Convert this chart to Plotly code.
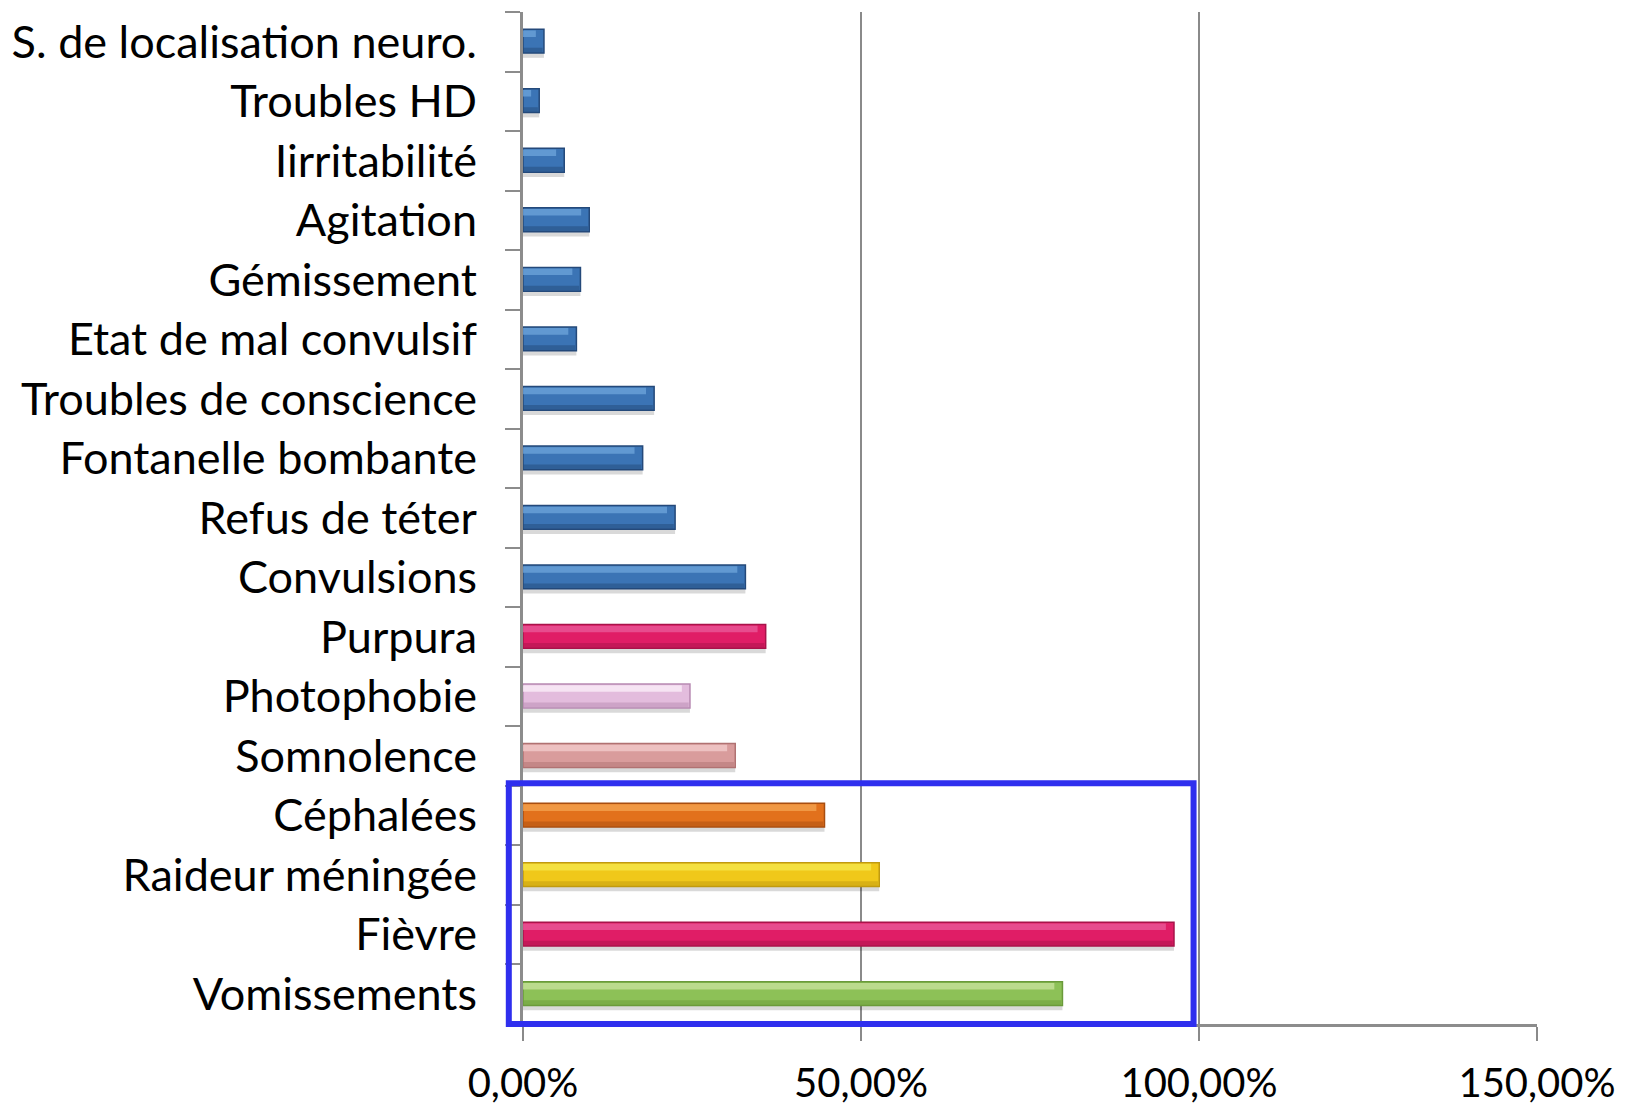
import plotly.graph_objects as go

categories = [
    "S. de localisation neuro.", "Troubles HD", "Iirritabilité", "Agitation",
    "Gémissement", "Etat de mal convulsif", "Troubles de conscience",
    "Fontanelle bombante", "Refus de téter", "Convulsions", "Purpura",
    "Photophobie", "Somnolence", "Céphalées", "Raideur méningée", "Fièvre",
    "Vomissements",
]
values = [0.031, 0.024, 0.061, 0.098, 0.085, 0.079, 0.194, 0.177, 0.225,
          0.329, 0.359, 0.247, 0.314, 0.446, 0.527, 0.963, 0.798]

BLUE = ("#3B74B5", "#6FA6DC", "#24497A")
PINK = ("#E01D66", "#EA5C9C", "#A8134A")
palette = {
    "Purpura": PINK,
    "Photophobie": ("#E3BCDD", "#FCF2FA", "#B88AB2"),
    "Somnolence": ("#D99C9C", "#F3CDCD", "#B07272"),
    "Céphalées": ("#E2711C", "#F4A552", "#A84E10"),
    "Raideur méningée": ("#F0C81A", "#F6E84E", "#C09A10"),
    "Fièvre": PINK,
    "Vomissements": ("#8DC157", "#CBE39F", "#6A9A3A"),
}
main_c = [palette.get(c, BLUE)[0] for c in categories]
light_c = [palette.get(c, BLUE)[1] for c in categories]
dark_c = [palette.get(c, BLUE)[2] for c in categories]

fig = go.Figure()
# shadow
fig.add_trace(go.Bar(y=categories, x=values, orientation="h", width=0.40, offset=-0.13,
                     marker=dict(color="rgba(0,0,0,0.15)", line=dict(width=0)),
                     hoverinfo="skip", showlegend=False))
# main bar
fig.add_trace(go.Bar(y=categories, x=values, orientation="h", width=0.40, offset=-0.21,
                     marker=dict(color=main_c, line=dict(width=1.5, color=dark_c)),
                     showlegend=False))
# lower darker band
fig.add_trace(go.Bar(y=categories, x=[v - 0.002 for v in values], orientation="h",
                     width=0.08, offset=0.10,
                     marker=dict(color=dark_c, opacity=0.5, line=dict(width=0)),
                     hoverinfo="skip", showlegend=False))
# highlight band
fig.add_trace(go.Bar(y=categories, x=[max(v - 0.012, 0.004) for v in values], orientation="h",
                     width=0.11, offset=-0.19,
                     marker=dict(color=light_c, opacity=0.75, line=dict(width=0)),
                     hoverinfo="skip", showlegend=False))

# highlight frame around the four main symptoms (paper coords so it is not clipped)
fig.add_shape(type="rect", xref="paper", yref="paper", x0=-0.014, x1=0.6613, y0=0.0, y1=0.238,
              line=dict(color="#2F2FEE", width=6), fillcolor="rgba(0,0,0,0)", layer="above")

fig.update_layout(
    width=1628, height=1106,
    margin=dict(l=523, r=91, t=12, b=82),
    barmode="overlay",
    plot_bgcolor="white", paper_bgcolor="white",
    separators=", ",
    font=dict(family="Lato, 'Noto Sans', sans-serif", color="black"),
    xaxis=dict(range=[0, 1.5], tickvals=[0, 0.5, 1.0, 1.5], tickformat=".2%",
               showgrid=True, gridcolor="#8A8A8A", gridwidth=1.5, zeroline=False,
               showline=True, linecolor="#8C8C8C", linewidth=3, automargin=False,
               ticks="outside", ticklen=14, tickwidth=1.5, tickcolor="#8A8A8A",
               tickfont=dict(size=40), ticklabelstandoff=8),
    yaxis=dict(categoryorder="array", categoryarray=categories, autorange="reversed",
               showline=True, linecolor="#8C8C8C", linewidth=3, showgrid=False,
               automargin=False,
               ticks="outside", tickson="boundaries", ticklen=15, tickwidth=2,
               tickcolor="#8C8C8C", tickfont=dict(size=45), ticklabelstandoff=34),
)

fig.write_html("out.html", config={"displayModeBar": False},
               post_script="document.body.style.margin='0px';")
